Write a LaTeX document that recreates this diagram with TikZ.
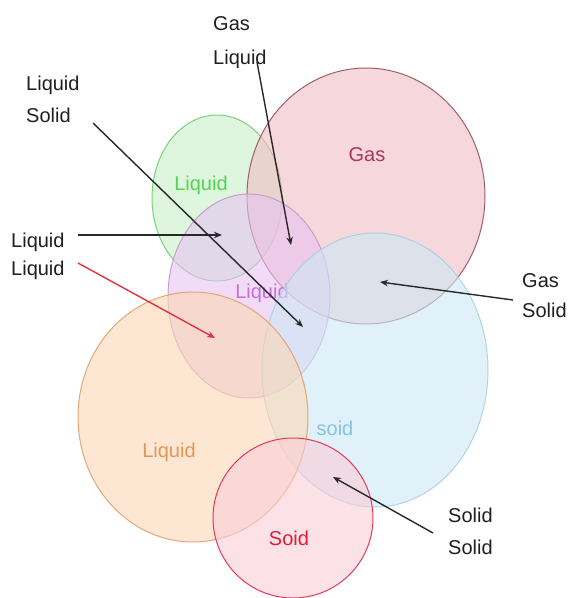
\documentclass[tikz,border=0pt]{standalone}
\usepackage{fontspec}
\setmainfont{Liberation Sans}
\usetikzlibrary{arrows.meta}
\definecolor{gD}{RGB}{110,205,110}\definecolor{gF}{RGB}{200,240,200}\definecolor{gT}{RGB}{80,215,80}
\definecolor{rD}{RGB}{150,80,95}\definecolor{rF}{RGB}{240,188,195}\definecolor{rT}{RGB}{170,55,95}
\definecolor{pD}{RGB}{200,150,200}\definecolor{pF}{RGB}{232,195,242}\definecolor{pT}{RGB}{200,110,220}
\definecolor{bD}{RGB}{165,210,225}\definecolor{bF}{RGB}{205,232,245}\definecolor{bT}{RGB}{130,195,230}
\definecolor{oD}{RGB}{225,160,110}\definecolor{oF}{RGB}{252,215,180}\definecolor{oT}{RGB}{225,150,90}
\definecolor{sD}{RGB}{225,40,75}\definecolor{sF}{RGB}{250,205,215}\definecolor{sT}{RGB}{220,30,60}
\definecolor{arr}{RGB}{40,40,40}\definecolor{arrR}{RGB}{225,50,65}
\begin{document}
\begin{tikzpicture}[x=1pt,y=-1pt,
  blob/.style={line width=1pt,fill opacity=0.6,draw opacity=0.9},
  lbl/.style={inner sep=0pt,anchor=base west,font=\fontsize{20}{22}\selectfont,text=black!88},
  clbl/.style={inner sep=0pt,font=\fontsize{20}{22}\selectfont},
  pointer/.style={line width=1.4pt,draw=arr,-{Stealth[length=8pt,width=6.5pt]}},
  pointerR/.style={line width=1.4pt,draw=arrR,-{Stealth[length=8pt,width=6.5pt]}}]
\useasboundingbox (0,0) rectangle (569,598);
% circles
\draw[blob,draw=gD,fill=gF] (217,198) ellipse [x radius=65pt,y radius=83pt];
\node[clbl,text=gT] (tg) at (201,185) {Liquid};
\draw[blob,draw=rD,fill=rF] (366,196) ellipse [x radius=119pt,y radius=128pt];
\node[clbl,text=rT] (tr) at (367,155) {Gas};
\draw[blob,draw=pD,fill=pF] (249,296) ellipse [x radius=81pt,y radius=102pt];
\node[clbl,text=pT] (tp) at (262,293) {Liquid};
\draw[blob,draw=bD,fill=bF] (375,370) ellipse [x radius=113pt,y radius=137pt];
\node[clbl,text=bT] (tb) at (335,428) {soid};
\draw[blob,draw=oD,fill=oF] (193,417) ellipse [x radius=115pt,y radius=125pt];
\node[clbl,text=oT] (to) at (169,452) {Liquid};
\draw[blob,draw=sD,fill=sF] (293,518) circle [radius=80pt];
\node[clbl,text=sT] (ts) at (289,538) {Soid};
% labels
\node[lbl] (l1a) at (213,30) {Gas};
\node[lbl] (l1b) at (213,64) {Liquid};
\node[lbl] (l2a) at (26,90) {Liquid};
\node[lbl] (l2b) at (26,122) {Solid};
\node[lbl] (l3a) at (11,247) {Liquid};
\node[lbl] (l3b) at (11,275) {Liquid};
\node[lbl] (l4a) at (522,287) {Gas};
\node[lbl] (l4b) at (522,317) {Solid};
\node[lbl] (l5a) at (448,522) {Solid};
\node[lbl] (l5b) at (448,554) {Solid};
% arrow endpoints
\coordinate (s1) at (257,62);  \coordinate (e1) at (291,245);
\coordinate (s2) at (93,123);  \coordinate (e2) at (303,327);
\coordinate (s3) at (78,235);  \coordinate (e3) at (222,235);
\coordinate (s4) at (78,263);  \coordinate (e4) at (215,338);
\coordinate (s5) at (513,300); \coordinate (e5) at (380,282);
\coordinate (s6) at (433,533); \coordinate (e6) at (333,477);
\draw[pointer] (s1) -- (e1);
\draw[pointer] (s2) -- (e2);
\draw[pointer] (s3) -- (e3);
\draw[pointerR] (s4) -- (e4);
\draw[pointer] (s5) -- (e5);
\draw[pointer] (s6) -- (e6);
\end{tikzpicture}
\end{document}
